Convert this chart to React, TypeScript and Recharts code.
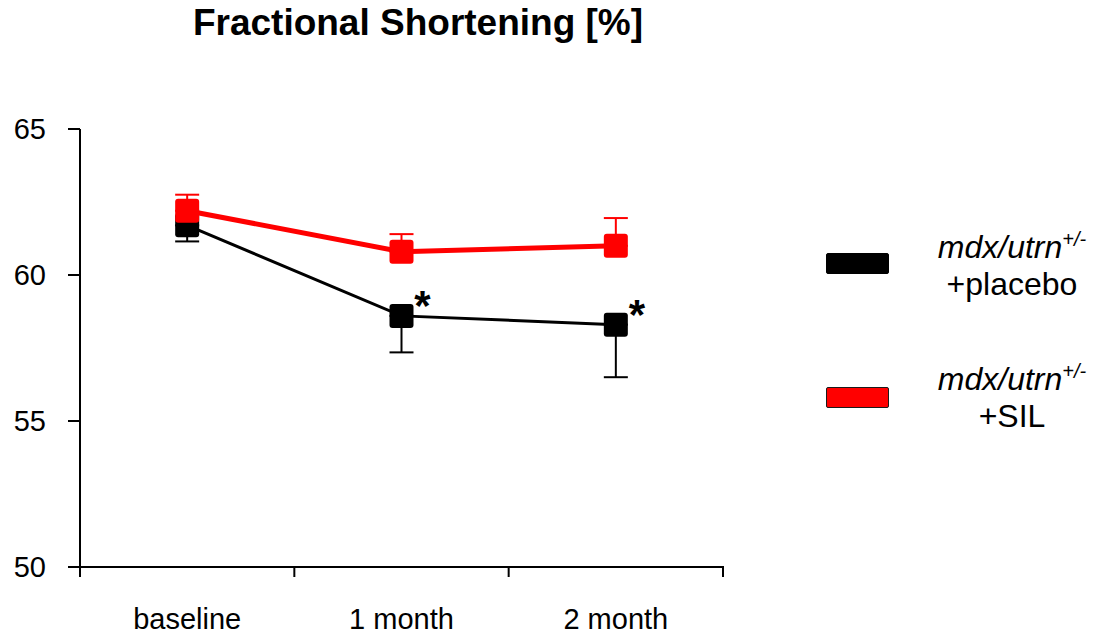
import { LineChart, Line, XAxis, YAxis, ErrorBar, LabelList } from 'recharts';

const categories = ['baseline', '1 month', '2 month'];
const placeboMean = [61.7, 58.6, 58.3];
const placeboSem = [0.55, 1.25, 1.8];
const silMean = [62.2, 60.8, 61.0];
const silSem = [0.55, 0.6, 0.95];
const placeboSig = ['', '*', '*'];
const yTicks = [50, 55, 60, 65];

const BLACK = '#000000';
const RED = '#FF0000';
const FONT = 'Arial, "Liberation Sans", Helvetica, sans-serif';

// x is the category slot centre; boundaries at integers carry the tick marks
const data = categories.map((name, i) => ({
  x: i + 0.5,
  name,
  placebo: placeboMean[i],
  placeboErr: [placeboSem[i], 0],
  sil: silMean[i],
  silErr: [0, silSem[i]],
  sig: placeboSig[i],
}));

const xTicks: number[] = [];
for (let i = 0; i <= categories.length * 2; i++) xTicks.push(i / 2);

function XTick(props: any) {
  const { x, y, payload } = props;
  const v = payload.value;
  if (Number.isInteger(v)) {
    return <line x1={x} x2={x} y1={y - 1} y2={y + 10} stroke={BLACK} strokeWidth={2} />;
  }
  const label = categories[Math.floor(v)];
  return (
    <text x={x} y={y + 62} textAnchor="middle" fontSize={29} fontFamily={FONT} fill={BLACK}>
      {label}
    </text>
  );
}

function squareDot(color: string) {
  return (props: any) => {
    const { cx, cy, index } = props;
    if (cx == null || cy == null) return null;
    return <rect key={index} x={cx - 12} y={cy - 12} width={24} height={24} rx={3} ry={3} fill={color} />;
  };
}

function Star(props: any) {
  const { x, y, value } = props;
  if (!value) return null;
  return (
    <text x={x + 21} y={y + 4} textAnchor="middle" fontSize={42} fontWeight="bold" fontFamily={FONT} fill={BLACK}>
      {value}
    </text>
  );
}

const legendItems = [
  { color: BLACK, border: BLACK, label: '+placebo', top: 253, textTop: 229 },
  { color: RED, border: '#1a1a1a', label: '+SIL', top: 387, textTop: 361 },
];

export default function App() {
  return (
    <div style={{ position: 'relative', width: 1102, height: 637, margin: -8, background: '#fff', fontFamily: FONT }}>
      <div
        style={{
          position: 'absolute',
          left: 0,
          width: 836,
          top: 2,
          textAlign: 'center',
          fontSize: 37,
          fontWeight: 'bold',
          color: BLACK,
        }}
      >
        Fractional Shortening [%]
      </div>
      <LineChart width={1102} height={637} data={data} margin={{ top: 129, right: 379, bottom: 0, left: 0 }}>
        <XAxis
          type="number"
          dataKey="x"
          domain={[0, categories.length]}
          ticks={xTicks}
          interval={0}
          tick={<XTick />}
          tickLine={false}
          tickSize={0}
          tickMargin={0}
          height={70}
          axisLine={{ stroke: BLACK, strokeWidth: 2 }}
        />
        <YAxis
          type="number"
          domain={[50, 65]}
          ticks={yTicks}
          interval={0}
          width={80}
          tickSize={12}
          tickMargin={22}
          tick={{ fontSize: 29, fill: BLACK, fontFamily: FONT }}
          tickLine={{ stroke: BLACK, strokeWidth: 2 }}
          axisLine={{ stroke: BLACK, strokeWidth: 2 }}
        />
        <Line
          dataKey="placebo"
          stroke={BLACK}
          strokeWidth={3}
          dot={squareDot(BLACK)}
          activeDot={false}
          isAnimationActive={false}
        >
          <ErrorBar dataKey="placeboErr" width={12} stroke={BLACK} strokeWidth={2} direction="y" />
          <LabelList dataKey="sig" content={<Star />} />
        </Line>
        <Line
          dataKey="sil"
          stroke={RED}
          strokeWidth={5}
          dot={squareDot(RED)}
          activeDot={false}
          isAnimationActive={false}
        >
          <ErrorBar dataKey="silErr" width={12} stroke={RED} strokeWidth={2} direction="y" />
        </Line>
      </LineChart>
      {legendItems.map((item) => (
        <div key={item.label}>
          <div
            style={{
              position: 'absolute',
              left: 826,
              top: item.top,
              width: 61,
              height: 19,
              background: item.color,
              border: `1.5px solid ${item.border}`,
              borderRadius: 2,
            }}
          />
          <div
            style={{
              position: 'absolute',
              left: 912,
              width: 200,
              top: item.textTop,
              textAlign: 'center',
              fontSize: 32,
              lineHeight: '37px',
              color: BLACK,
            }}
          >
            <div>
              <i>mdx/utrn</i>
              <sup style={{ fontSize: 20, fontStyle: 'italic', lineHeight: 0 }}>+/-</sup>
            </div>
            <div>{item.label}</div>
          </div>
        </div>
      ))}
    </div>
  );
}
